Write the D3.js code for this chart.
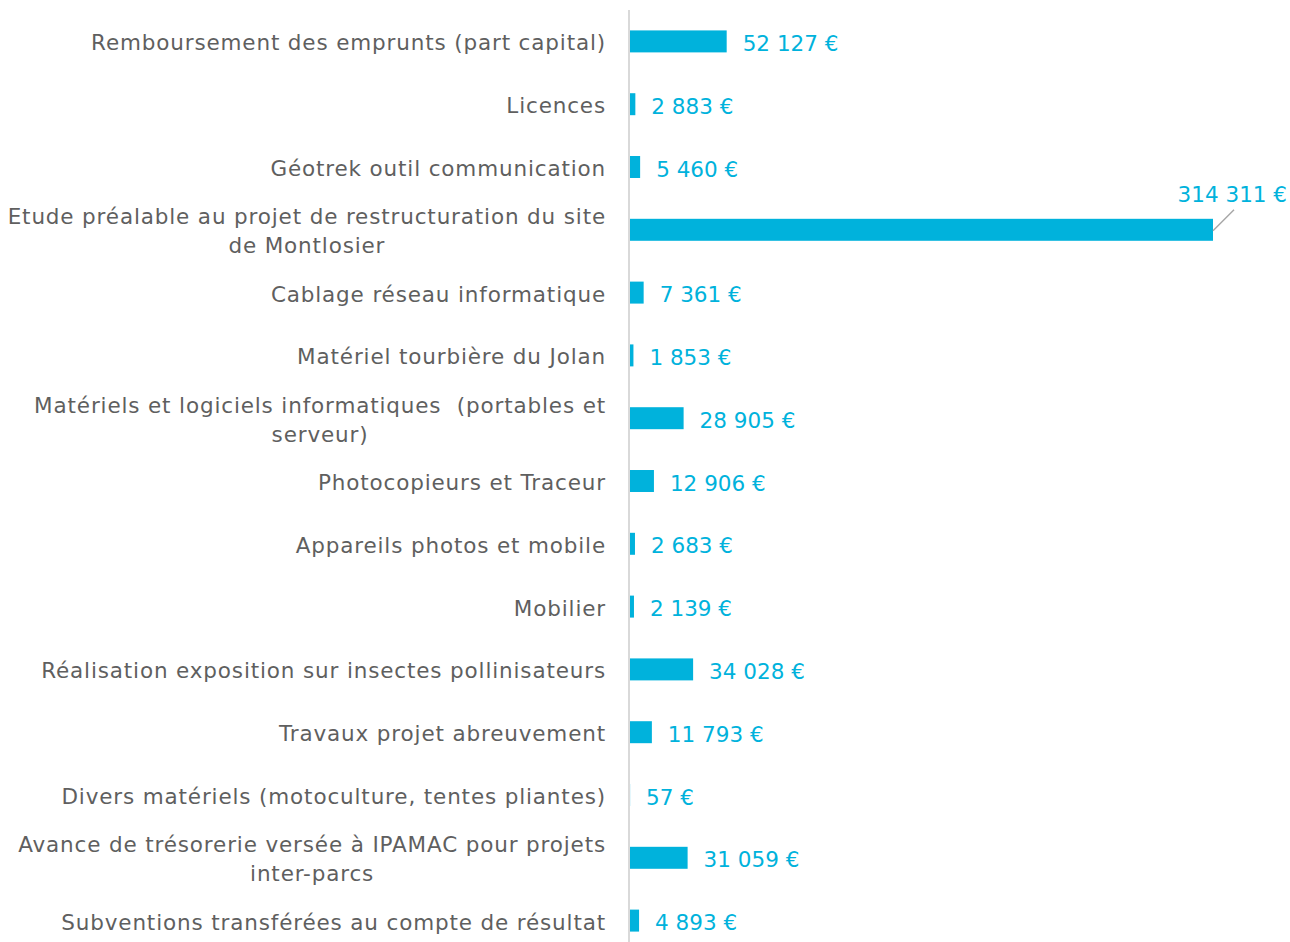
<!DOCTYPE html>
<html lang="fr">
<head>
<meta charset="UTF-8">
<title>Dépenses d'investissement</title>
<script src="https://d3js.org/d3.v7.min.js"></script>
<style>
  body { margin: 0; background: #fff; }
  text { font-family: "DejaVu Sans", sans-serif; white-space: pre; }
</style>
</head>
<body>
<div id="chart"></div>
<script>
// Categories (line breaks as in the original labels)
const categories = [
  "Remboursement des emprunts (part capital)",
  "Licences",
  "Géotrek outil communication",
  "Etude préalable au projet de restructuration du site\nde Montlosier",
  "Cablage réseau informatique",
  "Matériel tourbière du Jolan",
  "Matériels et logiciels informatiques  (portables et\nserveur)",
  "Photocopieurs et Traceur",
  "Appareils photos et mobile",
  "Mobilier",
  "Réalisation exposition sur insectes pollinisateurs",
  "Travaux projet abreuvement",
  "Divers matériels (motoculture, tentes pliantes)",
  "Avance de trésorerie versée à IPAMAC pour projets\ninter-parcs",
  "Subventions transférées au compte de résultat"
];
const values = [52127, 2883, 5460, 314311, 7361, 1853, 28905, 12906, 2683, 2139, 34028, 11793, 57, 31059, 4893];

const width = 1290, height = 942;
const axisX = 629;

const fr = d3.formatLocale({ decimal: ",", thousands: "\u00a0", grouping: [3], currency: ["", " €"] });
const fmt = fr.format("$,.0f");

const svg = d3.select("#chart").append("svg")
  .attr("width", width)
  .attr("height", height);

const x = d3.scaleLinear()
  .domain([0, d3.max(values)])
  .range([axisX + 1, 1213]);

const y = d3.scaleBand()
  .domain(categories)
  .range([10, 952])
  .paddingInner(0.65)
  .paddingOuter(0.325);

const data = categories.map((c, i) => ({ cat: c, val: values[i] }));
const maxVal = d3.max(values);

// bars
svg.selectAll("rect.bar")
  .data(data)
  .enter().append("rect")
  .attr("class", "bar")
  .attr("x", x(0))
  .attr("y", d => y(d.cat))
  .attr("width", d => x(d.val) - x(0))
  .attr("height", y.bandwidth())
  .attr("fill", "#00b2dc");

// vertical axis line
svg.append("line")
  .attr("x1", axisX).attr("x2", axisX)
  .attr("y1", 10).attr("y2", height)
  .attr("stroke", "#d9d9d9")
  .attr("stroke-width", 2);

// category labels
const lineH = 29;
const labels = svg.selectAll("text.cat")
  .data(data)
  .enter().append("text")
  .attr("class", "cat")
  .attr("fill", "#5f5f5f")
  .attr("font-size", 21.5)
  .attr("letter-spacing", 0.85)
  .attr("dominant-baseline", "central");

labels.each(function(d) {
  const lines = d.cat.split("\n");
  const t = d3.select(this);
  const cy = y(d.cat) + y.bandwidth() / 2;
  const y0 = cy - (lines.length - 1) * lineH / 2 + 1;
  // wrapped lines are centred on each other, the block stays right aligned
  const spans = lines.map((l, i) => t.append("tspan").attr("y", y0 + i * lineH).text(l));
  const widths = spans.map(s => s.node().getComputedTextLength());
  const maxW = d3.max(widths);
  const centre = 606 - maxW / 2;
  spans.forEach(s => {
    if (lines.length > 1) s.attr("x", centre).attr("text-anchor", "middle");
    else s.attr("x", 606).attr("text-anchor", "end");
  });
});

// value labels
svg.selectAll("text.val")
  .data(data.filter(d => d.val !== maxVal))
  .enter().append("text")
  .attr("class", "val")
  .attr("x", d => x(d.val) + 16)
  .attr("y", d => y(d.cat) + y.bandwidth() / 2 + 2)
  .attr("dominant-baseline", "central")
  .attr("fill", "#00b2dc")
  .attr("font-size", 21.5)
  .text(d => fmt(d.val));

// largest value: label above the bar with a leader line
const biggest = data.find(d => d.val === maxVal);
svg.append("line")
  .attr("x1", x(biggest.val)).attr("y1", y(biggest.cat) + y.bandwidth() / 2 + 1)
  .attr("x2", x(biggest.val) + 21).attr("y2", y(biggest.cat) - 9)
  .attr("stroke", "#a6a6a6")
  .attr("stroke-width", 1.5);
svg.append("text")
  .attr("x", 1287)
  .attr("y", y(biggest.cat) - 24)
  .attr("text-anchor", "end")
  .attr("dominant-baseline", "central")
  .attr("fill", "#00b2dc")
  .attr("font-size", 21.5)
  .text(fmt(biggest.val));
</script>
</body>
</html>
